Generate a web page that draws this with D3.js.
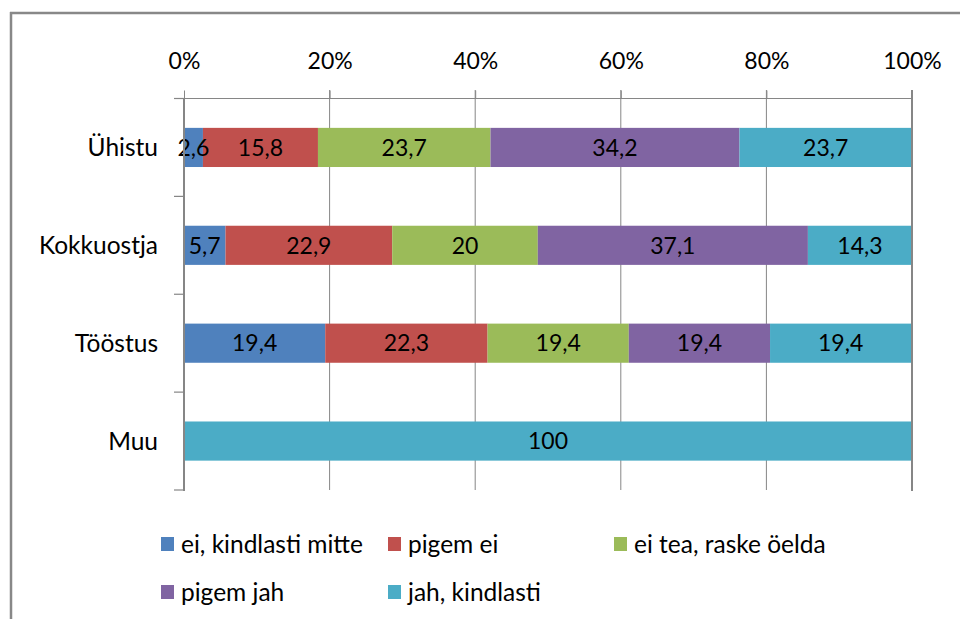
<!DOCTYPE html>
<html><head><meta charset="utf-8">
<script src="https://cdn.jsdelivr.net/npm/d3@7"></script>
<style>
html,body{margin:0;padding:0;background:#fff;}
svg text{font-family:Lato,"Open Sans",sans-serif;fill:#000;}
</style></head>
<body><svg id="c" width="960" height="619"></svg>
<script>
const categories = ["Ühistu", "Kokkuostja", "Tööstus", "Muu"];
const seriesNames = ["ei, kindlasti mitte", "pigem ei", "ei tea, raske öelda", "pigem jah", "jah, kindlasti"];
const colors = ["#4F81BD", "#C0504D", "#9BBB59", "#8064A2", "#4BACC6"];
const eiKindlastiMitte = [2.6, 5.7, 19.4, 0];
const pigemEi = [15.8, 22.9, 22.3, 0];
const eiTea = [23.7, 20, 19.4, 0];
const pigemJah = [34.2, 37.1, 19.4, 0];
const jahKindlasti = [23.7, 14.3, 19.4, 100];
const tickValues = [0, 20, 40, 60, 80, 100];
const tickLabels = ["0%", "20%", "40%", "60%", "80%", "100%"];

const seriesValues = [eiKindlastiMitte, pigemEi, eiTea, pigemJah, jahKindlasti];
const svg = d3.select("#c");
const FS = 23;
const FS2 = 24.5;

// frame (top and left edges)
svg.append("line").attr("x1", 10).attr("x2", 960).attr("y1", 13).attr("y2", 13)
  .attr("stroke", "#888").attr("stroke-width", 2.5);
svg.append("line").attr("x1", 11).attr("x2", 11).attr("y1", 12).attr("y2", 619)
  .attr("stroke", "#888").attr("stroke-width", 2.5);

const x = d3.scaleLinear().domain([0, 100]).range([184, 912]);
const y = d3.scaleBand().domain(categories).range([98.5, 490]).paddingInner(0.6).paddingOuter(0.3);

// gridlines
svg.append("g").selectAll("line").data(tickValues.slice(1, -1)).join("line")
  .attr("x1", d => x(d)).attr("x2", d => x(d)).attr("y1", 90).attr("y2", 490)
  .attr("stroke", "#868686").attr("stroke-width", 1);

// rows data
const rows = categories.map((c, i) => {
  let acc = 0;
  return seriesValues.map((s, k) => {
    const v = s[i];
    const seg = {cat: c, k, v, x0: acc, x1: acc + v};
    acc += v;
    return seg;
  });
}).flat();

svg.append("g").selectAll("rect").data(rows.filter(d => d.v > 0)).join("rect")
  .attr("x", d => x(d.x0)).attr("width", d => x(d.x1) - x(d.x0))
  .attr("y", d => y(d.cat)).attr("height", y.bandwidth())
  .attr("fill", d => colors[d.k]);

svg.append("g").selectAll("text").data(rows.filter(d => d.v > 0)).join("text")
  .attr("x", d => (x(d.x0) + x(d.x1)) / 2)
  .attr("y", d => y(d.cat) + y.bandwidth() / 2)
  .attr("dy", "0.36em").attr("text-anchor", "middle")
  .style("font-size", FS + "px")
  .text(d => String(d.v).replace(".", ","));

// top axis
const xAxis = d3.axisTop(x).tickValues(tickValues).tickFormat((d, i) => tickLabels[i])
  .tickSize(8).tickPadding(22);
const gx = svg.append("g").attr("transform", "translate(0,98.5)").call(xAxis);
gx.select(".domain").attr("stroke", "#868686").attr("d", "M174,0H912");
gx.selectAll(".tick line").attr("stroke", "#868686");
gx.selectAll(".tick text").style("font-size", FS + "px").attr("fill", "#000");

// left axis
const step = (490 - 98.5) / categories.length;
const edges = d3.range(categories.length + 1).map(i => 98.5 + i * step);
svg.append("g").selectAll("line").data(edges).join("line")
  .attr("x1", 174).attr("x2", 184).attr("y1", d => d).attr("y2", d => d)
  .attr("stroke", "#868686").attr("stroke-width", 1.2);
svg.append("line").attr("x1", x(0)).attr("x2", x(0)).attr("y1", 98.5).attr("y2", 491)
  .attr("stroke", "#868686").attr("stroke-width", 2);
svg.append("line").attr("x1", x(100)).attr("x2", x(100)).attr("y1", 90).attr("y2", 491)
  .attr("stroke", "#868686").attr("stroke-width", 2);

svg.append("g").selectAll("text").data(categories).join("text")
  .attr("x", 158).attr("y", d => y(d) + y.bandwidth() / 2).attr("dy", "0.36em")
  .attr("text-anchor", "end").style("font-size", FS2 + "px").text(d => d);

// legend
const legendPos = [[161, 544], [388, 544], [614, 544], [161, 592], [388, 592]];
const lg = svg.append("g").selectAll("g").data(seriesNames).join("g")
  .attr("transform", (d, i) => `translate(${legendPos[i][0]},${legendPos[i][1]})`);
lg.append("rect").attr("x", 0).attr("y", -7).attr("width", 13).attr("height", 14)
  .attr("fill", (d, i) => colors[i]);
lg.append("text").attr("x", 20).attr("dy", "0.36em").style("font-size", FS2 + "px").text(d => d);
</script></body></html>
